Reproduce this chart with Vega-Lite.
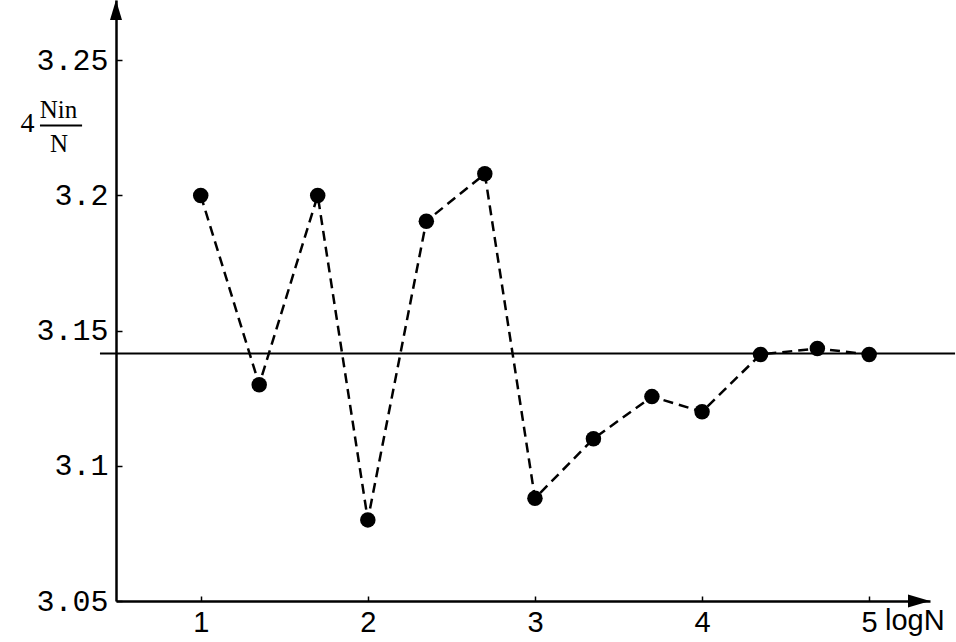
{
  "$schema": "https://vega.github.io/schema/vega-lite/v6.json",
  "width": 814,
  "height": 601,
  "autosize": {"type": "none"},
  "padding": {"left": 116, "top": 0, "right": 26, "bottom": 41},
  "background": "white",
  "config": {
    "view": {"stroke": null},
    "axis": {"grid": false, "title": null, "domainColor": "black", "domainWidth": 2.5, "tickColor": "black", "tickWidth": 1.5, "labelColor": "black"},
    "axisX": {"labelFont": "Liberation Sans", "labelFontSize": 29, "labelPadding": 12, "tickSize": -5},
    "axisY": {"labelFont": "Liberation Mono", "labelFontSize": 30, "labelPadding": 14, "tickSize": -6}
  },
  "datasets": {
    "pts": [
      {"logN": 1.00, "v": 3.2000},
      {"logN": 1.35, "v": 3.1300},
      {"logN": 1.70, "v": 3.2000},
      {"logN": 2.00, "v": 3.0800},
      {"logN": 2.35, "v": 3.1905},
      {"logN": 2.70, "v": 3.2080},
      {"logN": 3.00, "v": 3.0880},
      {"logN": 3.35, "v": 3.1100},
      {"logN": 3.70, "v": 3.1256},
      {"logN": 4.00, "v": 3.1200},
      {"logN": 4.35, "v": 3.1412},
      {"logN": 4.69, "v": 3.1434},
      {"logN": 5.00, "v": 3.1412}
    ],
    "one": [{}]
  },
  "layer": [
    {
      "data": {"name": "pts"},
      "mark": {"type": "line", "color": "black", "strokeWidth": 2.5, "strokeDash": [10, 6]},
      "encoding": {
        "x": {
          "field": "logN", "type": "quantitative",
          "scale": {"domain": [0.493, 5.364], "nice": false, "zero": false},
          "axis": {"values": [1, 2, 3, 4, 5], "format": "d", "title": null}
        },
        "y": {
          "field": "v", "type": "quantitative",
          "scale": {"domain": [3.05, 3.2723], "nice": false, "zero": false},
          "axis": {"values": [3.05, 3.1, 3.15, 3.2, 3.25], "format": ".3~r", "title": null}
        }
      }
    },
    {
      "data": {"name": "one"},
      "mark": {"type": "rule", "color": "black", "strokeWidth": 2},
      "encoding": {
        "x": {"datum": 0.397, "type": "quantitative", "scale": {"domain": [0.493, 5.364], "nice": false, "zero": false}},
        "x2": {"datum": 5.514},
        "y": {"datum": 3.14159, "type": "quantitative", "scale": {"domain": [3.05, 3.2723], "nice": false, "zero": false}}
      }
    },
    {
      "data": {"name": "pts"},
      "mark": {"type": "circle", "color": "black", "opacity": 1, "size": 240},
      "encoding": {
        "x": {"field": "logN", "type": "quantitative", "scale": {"domain": [0.493, 5.364], "nice": false, "zero": false}},
        "y": {"field": "v", "type": "quantitative", "scale": {"domain": [3.05, 3.2723], "nice": false, "zero": false}}
      }
    },
    {
      "data": {"name": "one"},
      "mark": {"type": "point", "filled": true, "color": "black", "opacity": 1, "size": 484, "shape": "M0,0L-2,-0.6L-2,0.6Z"},
      "encoding": {
        "x": {"datum": 5.364, "type": "quantitative", "scale": {"domain": [0.493, 5.364], "nice": false, "zero": false}},
        "y": {"datum": 3.05, "type": "quantitative", "scale": {"domain": [3.05, 3.2723], "nice": false, "zero": false}}
      }
    },
    {
      "data": {"name": "one"},
      "mark": {"type": "point", "filled": true, "color": "black", "opacity": 1, "size": 400, "shape": "M0,0L-0.6,2L0.6,2Z"},
      "encoding": {
        "x": {"datum": 0.493, "type": "quantitative", "scale": {"domain": [0.493, 5.364], "nice": false, "zero": false}},
        "y": {"datum": 3.2723, "type": "quantitative", "scale": {"domain": [3.05, 3.2723], "nice": false, "zero": false}}
      }
    },
    {
      "data": {"name": "one"},
      "mark": {"type": "rule", "color": "black", "strokeWidth": 2},
      "encoding": {
        "x": {"datum": 0.038, "type": "quantitative", "scale": {"domain": [0.493, 5.364], "nice": false, "zero": false}},
        "x2": {"datum": 0.290},
        "y": {"datum": 3.2259, "type": "quantitative", "scale": {"domain": [3.05, 3.2723], "nice": false, "zero": false}}
      }
    },
    {
      "data": {"name": "one"},
      "mark": {"type": "text", "text": "4", "font": "Liberation Serif", "fontSize": 28, "color": "black", "align": "center", "baseline": "alphabetic"},
      "encoding": {
        "x": {"datum": -0.037, "type": "quantitative", "scale": {"domain": [0.493, 5.364], "nice": false, "zero": false}},
        "y": {"datum": 3.2233, "type": "quantitative", "scale": {"domain": [3.05, 3.2723], "nice": false, "zero": false}}
      }
    },
    {
      "data": {"name": "one"},
      "mark": {"type": "text", "text": "Nin", "font": "Liberation Serif", "fontSize": 25, "color": "black", "align": "center", "baseline": "alphabetic"},
      "encoding": {
        "x": {"datum": 0.149, "type": "quantitative", "scale": {"domain": [0.493, 5.364], "nice": false, "zero": false}},
        "y": {"datum": 3.2288, "type": "quantitative", "scale": {"domain": [3.05, 3.2723], "nice": false, "zero": false}}
      }
    },
    {
      "data": {"name": "one"},
      "mark": {"type": "text", "text": "N", "font": "Liberation Serif", "fontSize": 25, "color": "black", "align": "center", "baseline": "alphabetic"},
      "encoding": {
        "x": {"datum": 0.152, "type": "quantitative", "scale": {"domain": [0.493, 5.364], "nice": false, "zero": false}},
        "y": {"datum": 3.2162, "type": "quantitative", "scale": {"domain": [3.05, 3.2723], "nice": false, "zero": false}}
      }
    },
    {
      "data": {"name": "one"},
      "mark": {"type": "text", "text": "logN", "font": "Liberation Sans", "fontSize": 29, "color": "black", "align": "left", "baseline": "alphabetic"},
      "encoding": {
        "x": {"datum": 5.095, "type": "quantitative", "scale": {"domain": [0.493, 5.364], "nice": false, "zero": false}},
        "y": {"datum": 3.0393, "type": "quantitative", "scale": {"domain": [3.05, 3.2723], "nice": false, "zero": false}}
      }
    }
  ]
}
